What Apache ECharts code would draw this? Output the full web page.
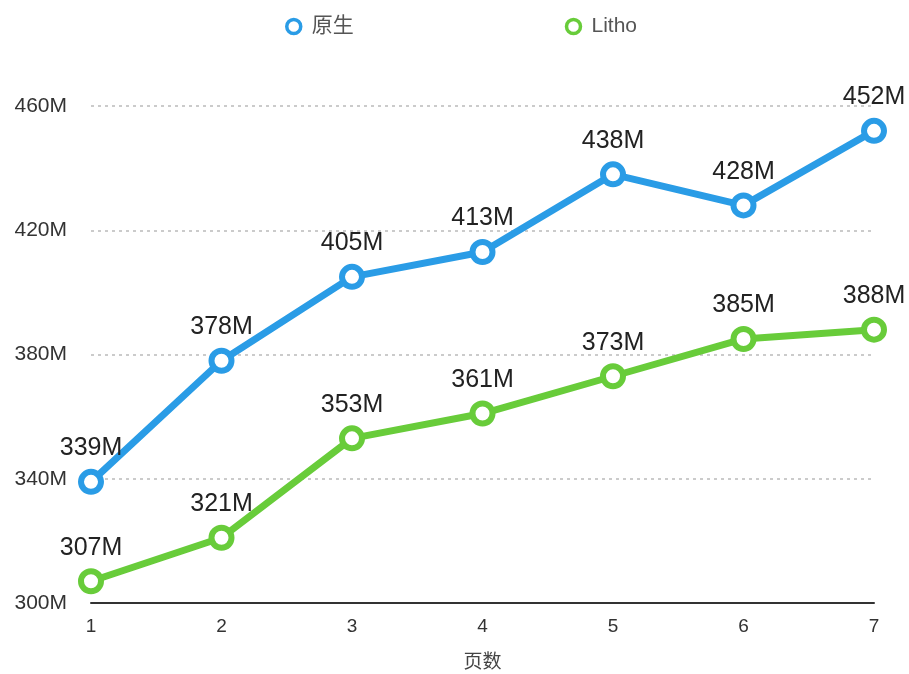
<!DOCTYPE html>
<html><head><meta charset="utf-8">
<script src="https://cdn.jsdelivr.net/npm/echarts@6/dist/echarts.min.js"></script>
<style>html,body{margin:0;padding:0;background:#fff}#c{width:909px;height:674px}</style>
</head><body><div id="c"></div>
<script>
const categories = ['1','2','3','4','5','6','7'];
const nativeValues = [339, 378, 405, 413, 438, 428, 452];
const lithoValues = [307, 321, 353, 361, 373, 385, 388];
const seriesNames = ['原生', 'Litho'];
const xName = '页数';
const colors = ['#2a9ce6', '#68cc3a'];

const font = '"Liberation Sans", Arial, "Noto Sans CJK SC", sans-serif';
function mkSeries(name, data, color) {
  return {
    name, type: 'line', data,
    symbol: 'circle', symbolSize: 20,
    lineStyle: { width: 7, color },
    itemStyle: { color: '#fff', borderColor: color, borderWidth: 6 },
    label: { show: true, position: 'top', distance: 8, formatter: '{c}M', fontSize: 25, color: '#222', fontFamily: font },
    emphasis: { disabled: true }
  };
}
const chart = echarts.init(document.getElementById('c'));
chart.setOption({
  animation: false,
  color: colors,
  legend: {
    top: 11, left: 280, itemGap: 211,
    itemWidth: 14, itemHeight: 14,
    textStyle: { fontSize: 21, color: '#555', fontFamily: font, padding: [0, 0, 0, 6] },
    data: seriesNames.map((n, i) => ({
      name: n, icon: 'circle',
      itemStyle: { color: '#fff', borderColor: colors[i], borderWidth: 3.5 }
    }))
  },
  grid: { left: 91, right: 35, top: 106, bottom: 71, outerBoundsMode: 'none' },
  xAxis: {
    type: 'category', data: categories, boundaryGap: false,
    name: xName, nameLocation: 'middle', nameGap: 50,
    nameTextStyle: { fontSize: 19, color: '#444', fontFamily: font },
    axisLine: { lineStyle: { color: '#333', width: 2 } },
    axisTick: { show: false },
    axisLabel: { fontSize: 19, color: '#333', margin: 14, fontFamily: font }
  },
  yAxis: {
    type: 'value', min: 300, max: 460, interval: 40,
    axisLine: { show: false }, axisTick: { show: false },
    axisLabel: { formatter: '{value}M', fontSize: 21, color: '#333', margin: 24, fontFamily: font },
    splitLine: { lineStyle: { type: [3, 4], color: '#bbb', width: 1.5 } }
  },
  series: [
    mkSeries(seriesNames[0], nativeValues, colors[0]),
    mkSeries(seriesNames[1], lithoValues, colors[1])
  ]
});
</script></body></html>
